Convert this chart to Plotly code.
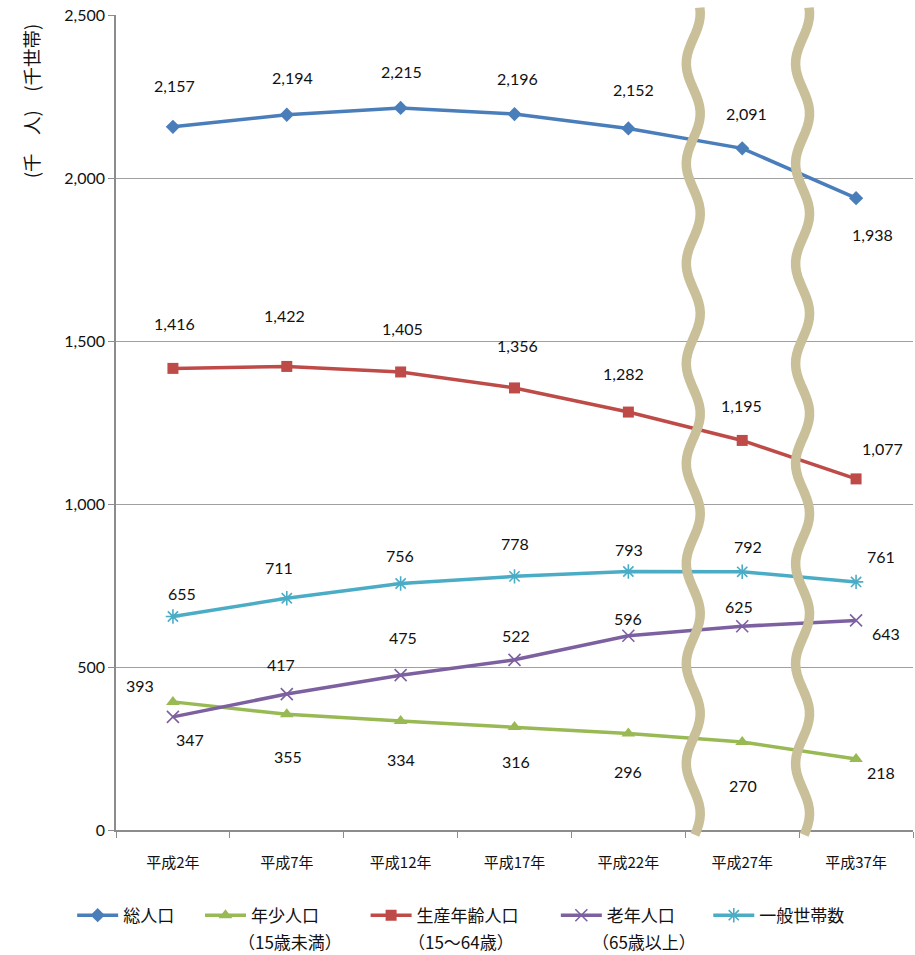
import math
import plotly.graph_objects as go

# 年次（カテゴリ）
years = ["平成2年", "平成7年", "平成12年", "平成17年", "平成22年", "平成27年", "平成37年"]

# 各系列（千人／千世帯）
total_pop = [2157, 2194, 2215, 2196, 2152, 2091, 1938]
youth_pop = [393, 355, 334, 316, 296, 270, 218]
working_pop = [1416, 1422, 1405, 1356, 1282, 1195, 1077]
elderly_pop = [347, 417, 475, 522, 596, 625, 643]
households = [655, 711, 756, 778, 793, 792, 761]

y_ticks = [0, 500, 1000, 1500, 2000, 2500]

# 凡例の名称と補足（年齢区分）
legend_names = ["総人口", "年少人口", "生産年齢人口", "老年人口", "一般世帯数"]
legend_notes = ["", "（15歳未満）", "（15～64歳）", "（65歳以上）", ""]
# 凡例項目の間隔調整用の余白
NB = "\u00a0"
legend_pad = ["\u3000" + NB, "\u3000\u3000" + NB * 2, "\u3000" + NB * 4,
              "\u3000" + NB * 3, ""]
# 補足ラベルの左端（紙座標）
legend_note_x = [0, 0.1506, 0.3637, 0.5946, 0]

# ラベル位置の微調整（px）: (xshift, yshift)
total_off = [(2, 41), (6, 37), (1, 36), (3, 36), (5, 39), (4, 35), (16, -36)]
youth_off = [(-33, 16), (1, -42), (0, -38), (1, -35), (0, -38), (1, -44), (25, -14)]
working_off = [(2, 45), (-2, 51), (2, 43), (3, 42), (-5, 39), (-1, 35), (26, 30)]
elderly_off = [(17, -23), (-6, 30), (2, 38), (1, 24), (0, 17), (-3, 20), (30, -13)]
house_off = [(9, 23), (-8, 31), (-1, 28), (0, 33), (1, 22), (6, 25), (25, 25)]

series = [
    (total_pop, "#4A7EBB", "diamond", 11, total_off),
    (youth_pop, "#98B954", "triangle-up", 12, youth_off),
    (working_pop, "#BE4B48", "square", 11, working_off),
    (elderly_pop, "#7D60A0", "x-thin-open", 12, elderly_off),
    (households, "#4BACC6", "asterisk-open", 12, house_off),
]

fig = go.Figure()
num_font = dict(family="Lato, 'Noto Sans', sans-serif", size=16, color="#111111")
jp_font = "'Noto Sans CJK JP', sans-serif"

for (vals, color, sym, size, offs), name, pad in zip(series, legend_names, legend_pad):
    marker = dict(symbol=sym, size=size, color=color)
    if sym.endswith("open"):
        marker["line"] = dict(color=color, width=1.6)
    fig.add_trace(go.Scatter(
        x=years, y=vals, name=name + pad, mode="lines+markers",
        line=dict(color=color, width=3.5), marker=marker,
    ))
    for xv, yv, (dx, dy) in zip(years, vals, offs):
        fig.add_annotation(
            x=xv, y=yv, text=f"{yv:,}", showarrow=False,
            xshift=dx, yshift=dy, font=num_font,
        )

# 凡例2行目（年齢区分）
for note, nx in zip(legend_notes, legend_note_x):
    if note:
        fig.add_annotation(
            xref="paper", yref="paper", x=nx, y=-0.1374,
            xanchor="left", yanchor="middle", text=note, showarrow=False,
            font=dict(family=jp_font, size=17, color="#111111"),
        )


# 省略を示す波線（カテゴリ位置を基準に紙座標で描く）
def wave_path(cat_pos, n_cat=7, y_top=1.009, y_bot=-0.006, amp_px=7,
              period_px=100, plot_w=797, plot_h=815):
    xc = (cat_pos + 0.5) / n_cat
    amp = amp_px / plot_w
    pts = []
    steps = 160
    for i in range(steps + 1):
        t = i / steps
        yy = y_top + (y_bot - y_top) * t
        ypx = (y_top - yy) * plot_h
        xx = xc + amp * math.sin(2 * math.pi * ypx / period_px + 1.2)
        pts.append((xx, yy))
    return "M " + " L ".join(f"{a:.5f},{b:.5f}" for a, b in pts)


for pos in (4.57, 5.53):
    fig.add_shape(type="path", xref="paper", yref="paper",
                  path=wave_path(pos), line=dict(color="#C9BF98", width=9.5),
                  layer="above")

fig.add_annotation(
    xref="paper", yref="paper", x=-0.107, y=0.895,
    xanchor="center", yanchor="middle",
    text="(千　人)　(千世帯)", textangle=-90, showarrow=False,
    font=dict(family=jp_font, size=18.5, color="#111111"),
)

fig.update_layout(
    width=915, height=955,
    margin=dict(l=116, r=2, t=15, b=125, autoexpand=False),
    paper_bgcolor="white", plot_bgcolor="white",
    showlegend=True,
    legend=dict(
        orientation="h", x=-0.055, xanchor="left", y=-0.083, yanchor="top",
        font=dict(family=jp_font, size=17, color="#111111"),
        itemwidth=41, tracegroupgap=0, valign="middle",
    ),
    font=dict(family=jp_font, color="#111111"),
)

fig.update_xaxes(
    type="category", showline=True, linecolor="#8C8C8C", linewidth=1.5,
    ticks="outside", ticklen=6, tickcolor="#8C8C8C", tickson="boundaries",
    showgrid=False, range=[-0.5, 6.5],
    tickfont=dict(family=jp_font, size=15, color="#111111"),
    ticklabelstandoff=18,
)
fig.update_yaxes(
    range=[0, 2500], tickvals=y_ticks, ticktext=[f"{v:,}" for v in y_ticks],
    showline=True, linecolor="#8C8C8C", linewidth=1.5,
    ticks="outside", ticklen=6, tickcolor="#8C8C8C",
    showgrid=True, gridcolor="#A0A0A0", gridwidth=1.2, zeroline=False,
    tickfont=dict(family="Lato, 'Noto Sans', sans-serif", size=16, color="#111111"),
)

fig.write_html("out.html")
